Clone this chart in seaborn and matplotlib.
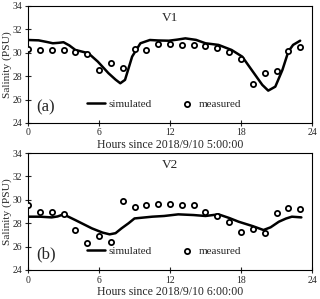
import numpy as np
import pandas as pd
import matplotlib
matplotlib.use("Agg")
import matplotlib.pyplot as plt
import seaborn as sns

sns.set_style("ticks")
plt.rcParams['font.family'] = ['Liberation Serif', 'DejaVu Serif']

hours_meas = list(range(24))
v1_meas = [30.31, 30.26, 30.23, 30.23, 30.03, 29.91, 28.51, 29.09, 28.66, 30.34,
           30.23, 30.74, 30.77, 30.69, 30.66, 30.54, 30.43, 30.06, 29.43, 27.34,
           28.31, 28.46, 30.17, 30.46]
v1_sim_h = [0, 0.9, 1.6, 2.1, 2.6, 3.0, 3.5, 4.0, 5.1, 5.9, 6.8, 7.4, 7.8, 8.2,
            8.8, 9.5, 10.3, 11.0, 11.9, 12.6, 13.3, 14.2, 15.0, 16.1, 17.2,
            18.1, 18.9, 19.8, 20.3, 20.9, 21.5, 22.0, 22.4, 23.0]
v1_sim = [31.09, 31.06, 30.92, 30.81, 30.85, 30.90, 30.62, 30.24, 29.96, 29.24,
          28.25, 27.70, 27.39, 27.68, 29.67, 30.81, 31.09, 31.05, 31.03, 31.12,
          31.23, 31.10, 30.81, 30.67, 30.24, 29.67, 28.53, 27.25, 26.76, 27.10,
          28.53, 30.10, 30.67, 31.03]

v2_meas = [29.57, 28.94, 28.97, 28.83, 27.40, 26.34, 26.91, 26.40, 29.94, 29.43,
           29.57, 29.66, 29.66, 29.57, 29.57, 28.97, 28.63, 28.11, 27.26, 27.51,
           27.20, 28.86, 29.34, 29.23]
v2_sim_h = [0, 1.0, 2.0, 2.5, 3.0, 4.0, 5.4, 6.3, 6.9, 7.4, 7.9, 8.5, 9.0, 10.5,
            11.5, 12.7, 14.0, 15.0, 16.1, 17.0, 17.8, 19.0, 19.9, 20.5, 21.2,
            21.8, 22.3, 23.1]
v2_sim = [28.56, 28.56, 28.50, 28.58, 28.76, 28.27, 27.56, 27.20, 27.05, 27.15,
          27.56, 28.00, 28.41, 28.56, 28.62, 28.76, 28.70, 28.62, 28.76, 28.45,
          28.13, 27.75, 27.42, 27.65, 28.13, 28.40, 28.56, 28.50]

panels = [
    ("V1", "(a)", "Hours since 2018/9/10 5:00:00", v1_sim_h, v1_sim, v1_meas),
    ("V2", "(b)", "Hours since 2018/9/10 6:00:00", v2_sim_h, v2_sim, v2_meas),
]

fig = plt.figure(figsize=(3.2, 2.99), dpi=100)
boxes = [[0.0875, 0.589, 0.8875, 0.391], [0.0875, 0.097, 0.8875, 0.391]]

for box, (title, tag, xlabel, sh, sv, mv) in zip(boxes, panels):
    ax = fig.add_axes(box)
    sim_df = pd.DataFrame({"h": sh, "v": sv})
    meas_df = pd.DataFrame({"h": hours_meas, "v": mv})
    sns.lineplot(data=sim_df, x="h", y="v", ax=ax, color="black", lw=1.8,
                 label="simulated", sort=False)
    sns.scatterplot(data=meas_df, x="h", y="v", ax=ax, marker="o", s=14,
                    facecolor="white", edgecolor="black", linewidth=1.3,
                    label="measured", zorder=3)
    ax.set_xlim(0, 24)
    ax.set_ylim(24, 34)
    ax.set_xticks([0, 6, 12, 18, 24])
    ax.set_yticks([24, 26, 28, 30, 32, 34])
    ax.tick_params(direction="inout", length=4, width=0.8, labelsize=7, pad=2)
    ax.set_xlabel(xlabel, fontsize=8.5, labelpad=1)
    ax.set_ylabel("Salinity (PSU)", fontsize=8.2)
    ax.yaxis.set_label_coords(-0.058, 0.5)
    for s in ax.spines.values():
        s.set_linewidth(0.8)
        s.set_color("black")
    ax.text(0.5, 0.9, title, transform=ax.transAxes, ha="center", va="center",
            fontsize=9.5)
    ax.text(0.03, 0.13, tag, transform=ax.transAxes, ha="left", va="center",
            fontsize=12)
    ax.legend(loc="center", bbox_to_anchor=(0.48, 0.16), ncol=2, frameon=False,
              fontsize=8, columnspacing=2.4, handlelength=1.6, handletextpad=0.3,
              borderpad=0)

fig.savefig("out.png", dpi=100)
